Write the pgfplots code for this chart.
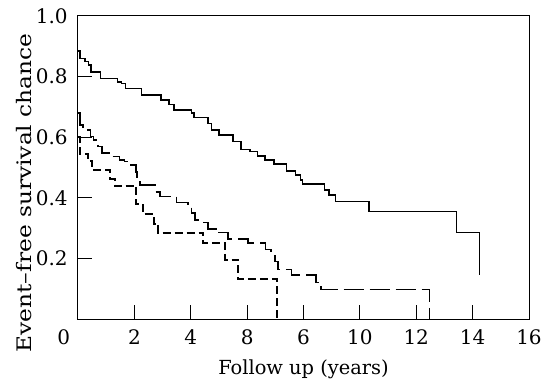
\documentclass[border=0pt]{standalone}
\usepackage{pgfplots}
\pgfplotsset{compat=1.18}
\usepackage{fontspec}
\setmainfont{DejaVu Serif}
\begin{document}
\begin{tikzpicture}
\path[use as bounding box] (-39pt,-31pt) rectangle (231.5pt,159.5pt);
\begin{axis}[
  at={(0pt,0pt)}, anchor=south west,
  scale only axis, width=225.5pt, height=151.5pt,
  xmin=0, xmax=16, ymin=0, ymax=1,
  axis line style={line width=0.5pt},
  tick align=inside, tick pos=left,
  major tick length=7pt,
  tick style={line width=0.5pt, black},
  xtick={0,2,4,6,8,10,12,14,16},
  xticklabels={\makebox[0pt][r]{0\kern4pt},2,4,8,6,10,12,14,16},
  ytick={0.2,0.4,0.6,0.8,1},
  yticklabels={0.2,0.4,0.6,0.8,1.0},
  ticklabel style={font=\fontsize{10}{12}\selectfont, inner sep=0pt},
  xticklabel style={anchor=center, yshift=-9pt},
  yticklabel style={anchor=east, xshift=-5pt},
  xlabel={Follow up (years)},
  ylabel={\scalebox{1.165}[1]{Event\textendash free survival chance}},
  xlabel style={font=\fontsize{9.7}{11}\selectfont, inner sep=0pt, at={(axis description cs:0.5,-0.165)}, anchor=center},
  ylabel style={font=\fontsize{10}{12}\selectfont, inner sep=0pt, at={(axis description cs:-0.1197,0.416)}, anchor=center},
  clip=false,
]
\addplot[const plot, black, line width=0.75pt] coordinates {
(0,0.885)(0.07,0.86)(0.25,0.85)(0.37,0.838)(0.46,0.815)(0.8,0.794)(1.4,0.783)(1.55,0.778)(1.68,0.761)(2.26,0.739)(2.95,0.723)(3.22,0.708)(3.4,0.690)(4.03,0.680)(4.12,0.665)(4.62,0.646)(4.74,0.624)(5.0,0.607)(5.5,0.585)(5.78,0.56)(6.1,0.552)(6.37,0.538)(6.63,0.525)(6.96,0.512)(7.4,0.489)(7.72,0.475)(7.9,0.459)(7.96,0.446)(8.75,0.426)(8.9,0.409)(9.13,0.387)(10.33,0.354)(13.43,0.285)(14.24,0.285)(14.24,0.145)
};
\addplot[const plot, black, line width=0.8pt, dash pattern=on 10pt off 3pt] coordinates {
(0,0.679)(0.07,0.64)(0.18,0.624)(0.45,0.602)(0.55,0.591)(0.72,0.569)(0.85,0.547)(1.22,0.536)(1.47,0.525)(1.65,0.52)(1.84,0.508)(2.05,0.486)(2.1,0.459)(2.2,0.442)(2.73,0.42)(2.9,0.404)(3.5,0.384)(3.91,0.371)(4.03,0.35)(4.15,0.327)(4.45,0.318)(4.62,0.298)(5.0,0.285)(5.33,0.264)(6.04,0.25)(6.65,0.23)(6.85,0.21)(6.99,0.19)(7.1,0.164)(7.58,0.145)(8.45,0.12)(8.62,0.097)(12.47,0.097)(12.47,0)
};
\addplot[const plot, black, line width=1pt, dash pattern=on 4pt off 2pt] coordinates {
(0,0.6)(0.07,0.545)(0.37,0.52)(0.5,0.492)(1.13,0.462)(1.3,0.44)(2.05,0.38)(2.3,0.345)(2.7,0.315)(2.85,0.285)(4.44,0.25)(5.23,0.196)(5.68,0.131)(7.06,0.131)(7.06,0)
};
\end{axis}
\end{tikzpicture}
\end{document}
